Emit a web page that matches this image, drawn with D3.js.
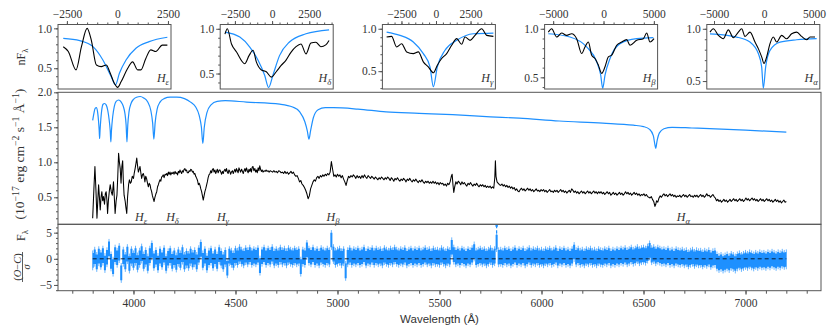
<!DOCTYPE html>
<html>
<head>
<meta charset="utf-8">
<script src="https://cdn.jsdelivr.net/npm/d3@7"></script>
<style>
body { margin: 0; background: #fff; }
svg text { font-family: "Liberation Serif", "DejaVu Serif", serif; fill: #333; }
.tick text { font-size: 11.5px; }
</style>
</head>
<body>
<div id="chart"></div>
<script>
// ---- data ----
// observed spectrum [wavelength, flux]
const observed = [[3800,0.20],[3806,0.62],[3811,0.94],[3816,0.60],[3821,0.20],[3825,0.45],[3829,0.68],[3833,0.50],[3837,0.32],[3841,0.50],[3845,0.58],[3849,0.45],[3853,0.51],[3858,0.40],[3862,0.55],[3866,0.58],[3870,0.45],[3873,0.27],[3877,0.45],[3882,0.60],[3886,0.68],[3891,0.58],[3896,0.53],[3899,0.62],[3902,0.72],[3906,0.50],[3910,0.27],[3915,0.45],[3919,0.53],[3923,0.80],[3927,1.13],[3931,1.00],[3935,0.91],[3939,0.70],[3943,0.94],[3947,1.02],[3950,0.75],[3954,0.53],[3959,0.45],[3963,0.35],[3967,0.27],[3971,0.50],[3976,0.68],[3980,0.75],[3985,0.70],[3989,0.72],[3994,0.80],[4000,0.77],[4004,0.85],[4008,0.91],[4012,0.98],[4016,1.06],[4020,0.95],[4024,0.86],[4028,0.90],[4032,0.94],[4036,0.85],[4040,0.77],[4044,0.82],[4048,0.84],[4052,0.80],[4056,0.72],[4060,0.80],[4064,0.77],[4069,0.70],[4073,0.65],[4077,0.70],[4081,0.68],[4085,0.62],[4089,0.58],[4093,0.52],[4097,0.48],[4101,0.44],[4105,0.50],[4110,0.55],[4114,0.58],[4118,0.65],[4122,0.68],[4126,0.72],[4130,0.75],[4134,0.73],[4138,0.79],[4142,0.80],[4146,0.82],[4150,0.78],[4155,0.83],[4159,0.82],[4163,0.84],[4167,0.81],[4171,0.86],[4175,0.83],[4179,0.86],[4183,0.82],[4187,0.85],[4191,0.84],[4195,0.86],[4199,0.83],[4204,0.87],[4208,0.84],[4212,0.85],[4216,0.82],[4220,0.87],[4224,0.85],[4228,0.89],[4232,0.86],[4236,0.84],[4240,0.88],[4244,0.86],[4248,0.90],[4252,0.91],[4256,0.88],[4260,0.89],[4264,0.85],[4269,0.85],[4273,0.88],[4277,0.87],[4281,0.90],[4285,0.89],[4289,0.86],[4293,0.87],[4297,0.83],[4301,0.84],[4305,0.80],[4310,0.77],[4314,0.74],[4318,0.68],[4322,0.70],[4326,0.67],[4330,0.62],[4334,0.58],[4338,0.52],[4342,0.46],[4346,0.52],[4350,0.58],[4354,0.62],[4358,0.67],[4362,0.72],[4366,0.78],[4370,0.82],[4375,0.84],[4379,0.88],[4383,0.85],[4387,0.90],[4391,0.91],[4395,0.86],[4399,0.89],[4403,0.84],[4407,0.87],[4411,0.90],[4415,0.85],[4420,0.89],[4424,0.89],[4428,0.86],[4432,0.83],[4436,0.87],[4440,0.84],[4444,0.88],[4448,0.90],[4452,0.87],[4456,0.91],[4460,0.86],[4464,0.84],[4468,0.89],[4472,0.87],[4476,0.83],[4480,0.86],[4485,0.88],[4489,0.84],[4493,0.87],[4497,0.90],[4501,0.86],[4505,0.91],[4509,0.88],[4513,0.85],[4517,0.92],[4521,0.89],[4525,0.86],[4530,0.90],[4534,0.87],[4538,0.84],[4542,0.88],[4546,0.91],[4550,0.87],[4554,0.92],[4558,0.88],[4562,0.85],[4566,0.90],[4570,0.87],[4574,0.91],[4578,0.86],[4582,0.93],[4586,0.94],[4590,0.88],[4595,0.91],[4599,0.86],[4603,0.89],[4607,0.85],[4611,0.92],[4615,0.88],[4619,0.95],[4623,0.90],[4627,0.87],[4631,0.89],[4635,0.86],[4640,0.88],[4645,0.87],[4650,0.89],[4655,0.87],[4660,0.88],[4665,0.86],[4670,0.88],[4676,0.87],[4682,0.86],[4688,0.88],[4694,0.86],[4700,0.87],[4706,0.85],[4712,0.88],[4718,0.87],[4724,0.85],[4730,0.86],[4736,0.84],[4742,0.87],[4748,0.84],[4754,0.86],[4760,0.83],[4766,0.85],[4772,0.87],[4778,0.84],[4784,0.86],[4790,0.82],[4796,0.80],[4802,0.81],[4808,0.77],[4814,0.72],[4820,0.74],[4826,0.69],[4832,0.67],[4838,0.64],[4844,0.60],[4850,0.55],[4856,0.48],[4862,0.52],[4868,0.62],[4874,0.67],[4880,0.72],[4886,0.75],[4892,0.73],[4898,0.78],[4904,0.80],[4910,0.77],[4916,0.81],[4922,0.79],[4928,0.82],[4934,0.80],[4940,0.83],[4946,0.81],[4952,0.84],[4958,0.82],[4964,0.86],[4970,1.01],[4976,0.90],[4982,0.80],[4988,0.82],[4994,0.79],[5000,0.83],[5006,0.80],[5012,0.82],[5018,0.78],[5024,0.81],[5030,0.76],[5036,0.72],[5042,0.67],[5048,0.74],[5054,0.80],[5060,0.78],[5066,0.81],[5072,0.79],[5078,0.82],[5084,0.80],[5090,0.77],[5096,0.81],[5102,0.78],[5108,0.80],[5114,0.77],[5120,0.81],[5126,0.78],[5132,0.82],[5138,0.79],[5144,0.77],[5150,0.81],[5156,0.79],[5162,0.77],[5168,0.80],[5174,0.78],[5180,0.76],[5186,0.79],[5192,0.77],[5198,0.75],[5204,0.78],[5210,0.76],[5216,0.79],[5222,0.77],[5228,0.75],[5234,0.78],[5240,0.76],[5246,0.79],[5252,0.77],[5258,0.74],[5264,0.78],[5270,0.76],[5276,0.73],[5282,0.77],[5288,0.75],[5294,0.78],[5300,0.75],[5306,0.73],[5312,0.76],[5318,0.74],[5324,0.77],[5330,0.75],[5336,0.72],[5342,0.76],[5348,0.74],[5354,0.77],[5360,0.74],[5366,0.72],[5372,0.75],[5378,0.73],[5384,0.76],[5390,0.73],[5396,0.71],[5402,0.74],[5408,0.72],[5414,0.75],[5420,0.72],[5426,0.70],[5432,0.73],[5438,0.71],[5444,0.73],[5450,0.70],[5456,0.72],[5462,0.70],[5468,0.73],[5474,0.70],[5480,0.72],[5486,0.69],[5492,0.71],[5498,0.68],[5504,0.71],[5510,0.69],[5516,0.70],[5522,0.67],[5528,0.69],[5534,0.66],[5540,0.70],[5546,0.68],[5552,0.72],[5558,0.80],[5562,0.83],[5566,0.68],[5570,0.57],[5574,0.64],[5580,0.72],[5586,0.69],[5592,0.73],[5598,0.71],[5604,0.68],[5610,0.72],[5616,0.69],[5622,0.71],[5628,0.68],[5634,0.66],[5640,0.70],[5646,0.68],[5652,0.71],[5658,0.68],[5664,0.66],[5670,0.69],[5676,0.67],[5682,0.70],[5688,0.67],[5694,0.65],[5700,0.68],[5706,0.66],[5712,0.68],[5718,0.65],[5724,0.67],[5730,0.64],[5736,0.66],[5742,0.64],[5748,0.66],[5754,0.63],[5760,0.65],[5766,0.63],[5771,0.78],[5774,1.02],[5777,0.80],[5782,0.72],[5788,0.70],[5794,0.68],[5800,0.67],[5806,0.69],[5812,0.66],[5818,0.68],[5824,0.65],[5830,0.67],[5836,0.64],[5842,0.66],[5848,0.63],[5854,0.65],[5860,0.62],[5866,0.64],[5872,0.60],[5878,0.62],[5884,0.59],[5890,0.58],[5896,0.61],[5902,0.63],[5908,0.60],[5914,0.62],[5920,0.59],[5926,0.61],[5932,0.63],[5938,0.60],[5944,0.62],[5950,0.59],[5956,0.61],[5962,0.58],[5968,0.60],[5974,0.62],[5980,0.59],[5986,0.60],[5992,0.58],[5998,0.61],[6004,0.59],[6010,0.61],[6016,0.58],[6022,0.60],[6028,0.57],[6034,0.59],[6040,0.61],[6046,0.58],[6052,0.59],[6058,0.57],[6064,0.60],[6070,0.58],[6076,0.60],[6082,0.57],[6088,0.59],[6094,0.61],[6100,0.58],[6106,0.60],[6112,0.57],[6118,0.59],[6124,0.56],[6130,0.58],[6136,0.60],[6142,0.57],[6148,0.62],[6154,0.60],[6160,0.57],[6166,0.59],[6172,0.56],[6178,0.58],[6184,0.55],[6190,0.57],[6196,0.59],[6202,0.56],[6208,0.58],[6214,0.55],[6220,0.57],[6226,0.59],[6232,0.56],[6238,0.58],[6244,0.55],[6250,0.57],[6256,0.59],[6262,0.56],[6268,0.58],[6274,0.55],[6280,0.58],[6286,0.56],[6292,0.58],[6298,0.55],[6304,0.57],[6310,0.54],[6316,0.56],[6322,0.58],[6328,0.55],[6334,0.57],[6340,0.53],[6346,0.55],[6352,0.57],[6358,0.54],[6364,0.56],[6370,0.53],[6376,0.55],[6382,0.57],[6388,0.54],[6394,0.56],[6400,0.53],[6406,0.55],[6412,0.58],[6418,0.55],[6424,0.57],[6430,0.54],[6436,0.56],[6442,0.53],[6448,0.55],[6454,0.57],[6460,0.54],[6466,0.56],[6472,0.53],[6478,0.55],[6484,0.52],[6490,0.54],[6496,0.53],[6502,0.55],[6508,0.52],[6514,0.54],[6520,0.51],[6526,0.50],[6532,0.49],[6538,0.51],[6544,0.47],[6550,0.44],[6556,0.37],[6560,0.40],[6564,0.45],[6570,0.43],[6576,0.49],[6582,0.52],[6588,0.50],[6594,0.53],[6600,0.55],[6606,0.52],[6612,0.54],[6618,0.51],[6624,0.53],[6630,0.55],[6636,0.52],[6642,0.54],[6648,0.51],[6654,0.53],[6660,0.50],[6666,0.52],[6672,0.51],[6678,0.53],[6684,0.50],[6690,0.52],[6696,0.54],[6702,0.51],[6708,0.53],[6714,0.50],[6720,0.52],[6726,0.54],[6732,0.51],[6738,0.52],[6744,0.50],[6750,0.53],[6756,0.51],[6762,0.53],[6768,0.50],[6774,0.52],[6780,0.54],[6786,0.51],[6792,0.53],[6798,0.50],[6804,0.52],[6810,0.55],[6816,0.52],[6822,0.53],[6828,0.50],[6834,0.52],[6840,0.54],[6846,0.51],[6852,0.49],[6858,0.45],[6864,0.47],[6870,0.44],[6876,0.46],[6882,0.43],[6888,0.45],[6894,0.47],[6900,0.44],[6906,0.46],[6912,0.43],[6918,0.45],[6924,0.47],[6930,0.44],[6936,0.46],[6942,0.48],[6948,0.45],[6954,0.47],[6960,0.44],[6966,0.46],[6972,0.48],[6978,0.45],[6984,0.47],[6990,0.44],[6996,0.46],[7002,0.49],[7008,0.46],[7014,0.48],[7020,0.45],[7026,0.47],[7032,0.49],[7038,0.46],[7044,0.48],[7050,0.45],[7056,0.47],[7062,0.44],[7068,0.46],[7074,0.48],[7080,0.45],[7086,0.47],[7092,0.44],[7098,0.46],[7104,0.48],[7110,0.45],[7116,0.47],[7122,0.44],[7128,0.46],[7134,0.43],[7140,0.45],[7146,0.47],[7152,0.44],[7158,0.46],[7164,0.43],[7170,0.45],[7176,0.42],[7182,0.44],[7188,0.46],[7194,0.43],[7200,0.44]];

// model spectrum [wavelength, flux]
const model = [[3800,1.60],[3806,1.70],[3812,1.77],[3818,1.78],[3824,1.72],[3829,1.58],[3832,1.45],[3834,1.34],[3836,1.45],[3839,1.58],[3845,1.76],[3851,1.83],[3858,1.84],[3866,1.82],[3874,1.74],[3881,1.60],[3886,1.45],[3889,1.29],[3892,1.45],[3898,1.65],[3906,1.80],[3915,1.87],[3927,1.89],[3940,1.86],[3950,1.80],[3958,1.70],[3964,1.53],[3968,1.29],[3972,1.53],[3978,1.72],[3988,1.84],[4000,1.90],[4015,1.93],[4033,1.94],[4050,1.92],[4070,1.86],[4085,1.74],[4094,1.56],[4100,1.33],[4106,1.56],[4116,1.76],[4130,1.86],[4150,1.91],[4180,1.93],[4212,1.93],[4250,1.91],[4280,1.86],[4305,1.79],[4322,1.67],[4333,1.50],[4340,1.27],[4347,1.50],[4360,1.71],[4380,1.82],[4410,1.87],[4450,1.88],[4554,1.86],[4717,1.83],[4780,1.79],[4815,1.72],[4840,1.58],[4852,1.45],[4860,1.33],[4868,1.45],[4882,1.64],[4905,1.75],[4940,1.78],[4980,1.78],[5100,1.76],[5238,1.72],[5400,1.70],[5564,1.68],[5750,1.65],[5890,1.63],[6086,1.59],[6300,1.56],[6450,1.53],[6500,1.51],[6530,1.47],[6548,1.38],[6556,1.25],[6560,1.20],[6566,1.30],[6578,1.42],[6600,1.48],[6640,1.50],[6737,1.49],[7000,1.46],[7200,1.43]];

// normalised residuals (O-C)/sigma, one value every 10 A from 3800 A
const resStart = 3800, resStep = 10;
const residual = [
 -0.3,0.4,-0.6,0.5,-0.2,0.6,-0.8,0.3,1.9,-0.5,
 -1.5,0.8,0.2,1.1,-2.7,0.4,-0.6,0.9,-0.9,0.5,
 -0.3,0.6,-0.7,0.2,1.0,-0.5,0.3,-0.9,0.6,1.6,
 -0.4,0.3,-0.8,0.5,-0.2,0.7,-0.9,0.1,0.6,-0.5,
 0.2,-0.7,0.4,-0.3,0.8,-0.6,0.1,-0.4,0.5,-0.2,
 0.3,-0.6,0.7,1.8,-0.3,0.5,-0.8,0.2,0.6,-0.4,
 0.4,-0.5,0.8,0.1,-0.6,0.3,-1.8,0.5,0.2,-0.3,
 0.6,0.2,0.9,0.4,0.1,0.7,0.3,0.8,0.2,0.5,
 0.3,0.7,-1.3,0.4,0.8,0.2,0.6,0.3,0.9,0.1,
 0.5,0.2,0.8,0.3,0.6,0.1,0.7,0.4,0.2,0.6,
 0.3,0.5,-1.5,0.4,0.2,1.7,0.6,0.3,0.8,0.2,
 0.5,0.1,0.7,0.4,0.2,0.6,0.3,3.6,0.9,0.2,
 0.4,0.6,0.1,0.5,-2.3,0.3,0.7,0.2,0.5,0.3,
 0.6,0.2,0.4,0.8,0.1,0.5,0.3,0.7,0.2,0.6,
 0.3,0.5,0.1,0.7,0.4,0.2,0.6,0.3,0.8,0.4,
 0.2,0.5,0.3,0.7,0.1,0.4,0.6,0.2,0.5,0.3,
 0.6,0.2,0.4,0.7,0.3,0.5,0.1,0.6,0.3,0.4,
 0.2,0.7,0.4,0.1,0.5,0.3,2.2,0.8,0.3,0.5,
 0.2,0.6,0.4,0.1,0.5,0.3,0.7,1.4,0.2,0.4,
 0.6,0.3,0.5,0.1,0.4,0.7,0.2,0.5,3.2,0.3,
 0.4,0.2,0.6,0.3,0.5,0.1,0.4,0.7,0.2,0.5,
 0.3,0.6,0.1,0.4,0.7,0.2,0.5,0.3,0.6,0.2,
 0.4,0.1,0.5,0.3,0.6,0.2,0.4,0.7,0.1,0.5,
 0.3,0.6,0.2,0.4,0.1,0.5,1.3,0.3,0.6,0.2,
 0.4,0.1,0.5,0.3,0.6,0.2,0.4,0.1,0.5,0.3,
 0.2,0.5,0.3,0.6,0.1,0.4,0.2,0.5,0.3,0.6,
 0.4,0.7,0.3,0.5,0.8,0.4,0.6,0.9,0.5,0.7,
 0.8,0.6,1.0,1.6,0.7,0.9,0.5,0.8,0.6,0.4,
 0.5,0.3,0.6,0.2,0.4,0.1,0.5,0.3,0.2,0.4,
 0.1,0.3,-0.1,0.2,0.4,0.0,0.3,0.1,0.2,-0.1,
 0.2,0.0,0.3,-0.2,0.1,0.2,-0.5,-0.8,-0.6,-0.9,
 -0.7,-0.5,-0.8,-0.4,-0.6,-0.9,-0.5,-0.3,-0.6,-0.4,
 -0.2,-0.4,-0.1,-0.3,-0.5,-0.2,-0.4,-0.1,-0.3,-0.2,
 -0.4,-0.1,-0.3,0.0,-0.2,-0.4,-0.1,-0.3,0.0,-0.2,
 -0.1];
const resOutlierWave = [5780];
const resOutlierValue = [6.3];

// Balmer line labels on the main panel
const lineNames = ["ε", "δ", "γ", "β", "α"];
const lineLabelWave = [4008, 4160, 4409, 4946, 6663];

// line profiles in the insets [velocity km/s, normalised flux]
const epsObs = [[-2680,0.77],[-2430,0.71],[-2050,0.48],[-1780,0.77],[-1500,1.0],[-1290,0.85],[-1040,0.54],[-800,0.52],[-550,0.54],[-390,0.46],[-150,0.31],[10,0.26],[180,0.33],[510,0.50],[750,0.58],[1000,0.48],[1160,0.48],[1400,0.62],[1650,0.73],[1900,0.71],[2220,0.79],[2470,0.79]];
const epsMod = [[-2680,0.875],[-1860,0.846],[-1210,0.771],[-720,0.604],[-310,0.396],[-98,0.292],[98,0.438],[425,0.604],[915,0.75],[1570,0.833],[2470,0.888]];
const deltaObs = [[-3170,0.94],[-3010,1.0],[-2730,0.83],[-2390,0.74],[-1840,0.61],[-1550,0.70],[-1280,0.76],[-1060,0.63],[-720,0.54],[-390,0.52],[-50,0.46],[280,0.52],[610,0.59],[940,0.65],[1280,0.74],[1610,0.80],[1940,0.83],[2280,0.72],[2610,0.84],[2940,0.85],[3280,0.80],[3610,0.82],[3830,0.87]];
const deltaMod = [[-3170,0.963],[-2170,0.907],[-1500,0.796],[-944,0.648],[-500,0.481],[-233,0.344],[56,0.481],[500,0.70],[1167,0.852],[2278,0.944],[3833,0.989]];
const gammaObs = [[-3575,0.902],[-3213,0.910],[-2850,0.785],[-2488,0.824],[-2126,0.727],[-1643,0.707],[-1280,0.727],[-918,0.610],[-556,0.551],[-193,0.481],[97,0.571],[411,0.649],[773,0.707],[1135,0.805],[1498,0.883],[1860,0.817],[2101,0.902],[2464,0.863],[2826,0.922],[3309,1.0],[3671,0.922],[4155,0.910]];
const gammaMod = [[-3575,0.961],[-2609,0.922],[-1643,0.844],[-918,0.707],[-435,0.551],[-193,0.317],[97,0.551],[652,0.746],[1498,0.863],[2705,0.941],[4155,0.949]];
const betaObs = [[-5479,0.966],[-5148,1.0],[-4651,0.915],[-4155,0.956],[-3659,0.932],[-3162,0.949],[-2665,0.898],[-2169,0.745],[-1838,0.813],[-1507,0.864],[-1175,0.728],[-844,0.694],[-513,0.626],[-182,0.541],[149,0.609],[480,0.711],[811,0.728],[1308,0.830],[1804,0.864],[2301,0.888],[2632,0.830],[3294,0.881],[3956,0.898],[4287,0.956],[4618,0.864],[5016,0.898]];
const betaMod = [[-5479,0.949],[-3327,0.915],[-1672,0.813],[-679,0.660],[-281,0.524],[-83,0.388],[149,0.524],[646,0.694],[1639,0.847],[3294,0.898],[4949,0.908]];
const alphaObs = [[-5400,0.968],[-5067,1.0],[-4567,0.937],[-4067,0.905],[-3567,0.990],[-3067,0.914],[-2567,0.968],[-2233,1.0],[-1900,0.927],[-1400,0.968],[-900,0.873],[-567,0.810],[-233,0.731],[0,0.668],[267,0.731],[600,0.858],[933,0.921],[1267,0.873],[1767,0.937],[2267,0.905],[2767,0.952],[3267,0.968],[3767,0.927],[4267,0.895],[4600,0.921],[5100,0.921]];
const alphaMod = [[-5400,0.952],[-2733,0.921],[-1400,0.873],[-567,0.763],[-233,0.636],[-67,0.431],[167,0.636],[600,0.794],[1600,0.873],[3267,0.895],[5267,0.905]];

// tick labels
const waveTicks = [4000, 4500, 5000, 5500, 6000, 6500, 7000];
const fluxTicks = [0.5, 1.0, 1.5, 2.0];
const resTicks = [-5, 0, 5];
const insetFluxTicks = [0.5, 1.0];
const insetVelTicks = [[-2500, 0, 2500], [-2500, 0, 2500], [-2500, 0, 2500], [-5000, 0, 5000], [-5000, 0, 5000]];

// ---- layout ----
const width = 830, height = 327;
const left = 58, right = 821;
const mainTop = 92.3, mainBottom = 224.3, resBottom = 290.7;
const insetTop = 24.5, insetBottom = 89, insetW = 113;
const insetLeft = [58, 220.2, 382.4, 544.6, 706.8];
const insetVelDomain = [[-2940, 2650], [-3490, 4110], [-3880, 4300], [-5850, 5370], [-5720, 5580]];
const insetFluxDomain = [[0.24, 1.048], [0.327, 1.048], [0.29, 1.05], [0.38, 1.044], [0.424, 1.041]];
const insetMinor = [500, 500, 500, 1000, 1000];
const insetObs = [epsObs, deltaObs, gammaObs, betaObs, alphaObs];
const insetMod = [epsMod, deltaMod, gammaMod, betaMod, alphaMod];

const blue = "#1e90ff", frame = "#555";

const svg = d3.select("#chart").append("svg")
    .attr("width", width)
    .attr("height", height);

const x = d3.scaleLinear().domain([3630, 7370]).range([left, right]);
const yMain = d3.scaleLinear().domain([0.114, 2.0]).range([mainBottom, mainTop]);
const yRes = d3.scaleLinear().domain([-6.1, 6.6]).range([resBottom, mainBottom]);

function tidy(g) {
    g.select(".domain").remove();
    g.selectAll(".tick line").attr("stroke", frame);
    g.attr("font-family", null).attr("font-size", null);
}

// write text made of normal / super (1) / sub (-1) pieces
function rich(t, parts, size) {
    let cur = 0;
    parts.forEach(function (p) {
        const off = p[1] === 1 ? -0.38 * size : p[1] === -1 ? 0.28 * size : 0;
        const ts = t.append("tspan").text(p[0])
            .attr("dy", off - cur)
            .attr("font-size", p[1] ? size * 0.72 : size);
        if (p[2]) ts.attr("font-style", "italic");
        cur = off;
    });
}

// ---- main panel ----
svg.append("path")
    .datum(model)
    .attr("fill", "none")
    .attr("stroke", blue)
    .attr("stroke-width", 1.2)
    .attr("d", d3.line().x(d => x(d[0])).y(d => yMain(d[1])).curve(d3.curveMonotoneX));

svg.append("path")
    .datum(observed)
    .attr("fill", "none")
    .attr("stroke", "#000")
    .attr("stroke-width", 1.05)
    .attr("stroke-linejoin", "round")
    .attr("d", d3.line().x(d => x(d[0])).y(d => yMain(d[1])));

lineNames.forEach(function (n, i) {
    const t = svg.append("text")
        .attr("x", x(lineLabelWave[i]))
        .attr("y", yMain(0.16));
    rich(t, [["H", 0, true], [n, -1, true]], 12);
});

svg.append("g").attr("transform", "translate(" + left + ",0)")
    .call(d3.axisLeft(yMain).tickValues(d3.range(0.2, 2.001, 0.1)).tickSize(2).tickFormat(""))
    .call(tidy);
svg.append("g").attr("transform", "translate(" + left + ",0)")
    .call(d3.axisLeft(yMain).tickValues(fluxTicks).tickFormat(d3.format(".1f")).tickSize(4).tickPadding(2))
    .call(tidy);

svg.append("rect")
    .attr("x", left).attr("y", mainTop)
    .attr("width", right - left).attr("height", mainBottom - mainTop)
    .attr("fill", "none").attr("stroke", frame);

// ---- residual panel ----
svg.append("clipPath").attr("id", "resclip")
    .append("rect").attr("x", left).attr("y", mainBottom)
    .attr("width", right - left).attr("height", resBottom - mainBottom);

const res = svg.append("g").attr("clip-path", "url(#resclip)");
const errHalf = 1.4;

// thin error-bar whiskers behind the band give it a ragged edge
res.selectAll("line.bar")
    .data(residual)
    .enter()
    .append("line")
    .attr("class", "bar")
    .attr("x1", (d, i) => x(resStart + i * resStep))
    .attr("x2", (d, i) => x(resStart + i * resStep))
    .attr("y1", d => yRes(d - errHalf - 0.5))
    .attr("y2", d => yRes(d + errHalf + 0.5))
    .attr("stroke", "#5aaeff")
    .attr("stroke-width", 0.9);

res.append("path")
    .datum(residual)
    .attr("fill", blue)
    .attr("d", d3.area()
        .x((d, i) => x(resStart + i * resStep))
        .y0(d => yRes(d - errHalf))
        .y1(d => yRes(d + errHalf))
        .curve(d3.curveStep));

res.selectAll("line.out")
    .data(resOutlierWave)
    .enter()
    .append("line")
    .attr("x1", d => x(d)).attr("x2", d => x(d))
    .attr("y1", (d, i) => yRes(resOutlierValue[i] - errHalf))
    .attr("y2", (d, i) => yRes(resOutlierValue[i] + errHalf))
    .attr("stroke", blue)
    .attr("stroke-width", 1.2)
    .attr("stroke-dasharray", "3,2");
res.selectAll("circle.out")
    .data(resOutlierWave)
    .enter()
    .append("circle")
    .attr("cx", d => x(d))
    .attr("cy", (d, i) => yRes(resOutlierValue[i]))
    .attr("r", 1.3)
    .attr("fill", blue);

res.append("path")
    .datum([resStart, resStart + (residual.length - 1) * resStep])
    .attr("fill", "none")
    .attr("stroke", "#000")
    .attr("stroke-width", 1)
    .attr("stroke-dasharray", "4,3")
    .attr("opacity", 0.8)
    .attr("d", d3.line().x(d => x(d)).y(() => yRes(0)));

svg.append("g").attr("transform", "translate(" + left + ",0)")
    .call(d3.axisLeft(yRes).tickValues(d3.range(-6, 7, 1)).tickSize(2).tickFormat(""))
    .call(tidy);
svg.append("g").attr("transform", "translate(" + left + ",0)")
    .call(d3.axisLeft(yRes).tickValues(resTicks).tickFormat(d3.format("d")).tickSize(4).tickPadding(2))
    .call(tidy);

svg.append("g").attr("transform", "translate(0," + resBottom + ")")
    .call(d3.axisBottom(x).tickValues(d3.range(3700, 7301, 100)).tickSize(3).tickFormat(""))
    .call(tidy);
svg.append("g").attr("transform", "translate(0," + resBottom + ")")
    .call(d3.axisBottom(x).tickValues(waveTicks).tickFormat(d3.format("d")).tickSize(4).tickPadding(4))
    .call(tidy);

svg.append("rect")
    .attr("x", left).attr("y", mainBottom)
    .attr("width", right - left).attr("height", resBottom - mainBottom)
    .attr("fill", "none").attr("stroke", frame);

// ---- insets ----
insetLeft.forEach(function (x0, i) {
    const xv = d3.scaleLinear().domain(insetVelDomain[i]).range([x0, x0 + insetW]);
    const yv = d3.scaleLinear().domain(insetFluxDomain[i]).range([insetBottom, insetTop]);
    const g = svg.append("g");

    g.append("path")
        .datum(insetMod[i])
        .attr("fill", "none").attr("stroke", blue).attr("stroke-width", 1.2)
        .attr("d", d3.line().x(d => xv(d[0])).y(d => yv(d[1])).curve(d3.curveMonotoneX));
    g.append("path")
        .datum(insetObs[i])
        .attr("fill", "none").attr("stroke", "#000").attr("stroke-width", 1.1)
        .attr("d", d3.line().x(d => xv(d[0])).y(d => yv(d[1])).curve(d3.curveMonotoneX));

    const dom = insetVelDomain[i], step = insetMinor[i];
    const minor = d3.range(Math.ceil(dom[0] / step) * step, dom[1], step);
    g.append("g").attr("transform", "translate(0," + insetTop + ")")
        .call(d3.axisTop(xv).tickValues(minor).tickSize(2).tickFormat(""))
        .call(tidy);
    g.append("g").attr("transform", "translate(0," + insetTop + ")")
        .call(d3.axisTop(xv).tickValues(insetVelTicks[i]).tickFormat(d3.format("d")).tickSize(3.5).tickPadding(3))
        .call(tidy);

    const fd = insetFluxDomain[i];
    g.append("g").attr("transform", "translate(" + x0 + ",0)")
        .call(d3.axisLeft(yv).tickValues(d3.range(Math.ceil(fd[0] * 10) / 10, fd[1], 0.1)).tickSize(2).tickFormat(""))
        .call(tidy);
    g.append("g").attr("transform", "translate(" + x0 + ",0)")
        .call(d3.axisLeft(yv).tickValues(insetFluxTicks).tickFormat(d3.format(".1f")).tickSize(4).tickPadding(2))
        .call(tidy);

    g.append("rect")
        .attr("x", x0).attr("y", insetTop)
        .attr("width", insetW).attr("height", insetBottom - insetTop)
        .attr("fill", "none").attr("stroke", frame);

    const t = g.append("text")
        .attr("x", x0 + insetW - 2)
        .attr("y", insetBottom - 7)
        .attr("text-anchor", "end");
    rich(t, [["H", 0, true], [lineNames[i], -1, true]], 12);
});

// ---- axis titles ----
const fluxSym = svg.append("text")
    .attr("transform", "translate(25,241) rotate(-90)")
    .attr("text-anchor", "start");
rich(fluxSym, [["F", 0], ["λ", -1]], 12);

const unitLabel = svg.append("text")
    .attr("transform", "translate(24,154) rotate(-90)")
    .attr("text-anchor", "middle");
rich(unitLabel, [["(10", 0], ["−17", 1], [" erg cm", 0], ["−2", 1], [" s", 0], ["−1", 1], [" Å", 0], ["−1", 1], [")", 0]], 13.5);

const insetLabel = svg.append("text")
    .attr("transform", "translate(25,57) rotate(-90)")
    .attr("text-anchor", "middle");
rich(insetLabel, [["nF", 0], ["λ", -1]], 12);

const frac = svg.append("g").attr("transform", "translate(23,267) rotate(-90)");
const num = frac.append("text").attr("y", -2.5).attr("text-anchor", "middle");
rich(num, [["(", 0], ["O", 0, true], ["−", 0], ["C", 0, true], [")", 0]], 10.5);
frac.append("line")
    .attr("x1", -15).attr("x2", 15).attr("y1", -0.5).attr("y2", -0.5)
    .attr("stroke", "#333").attr("stroke-width", 0.8);
frac.append("text").attr("y", 7).attr("text-anchor", "middle")
    .attr("font-size", 10.5).attr("font-style", "italic").text("σ");

svg.append("text")
    .attr("x", (left + right) / 2)
    .attr("y", 323)
    .attr("text-anchor", "middle")
    .style("font-family", '"Liberation Sans", "DejaVu Sans", sans-serif')
    .attr("font-size", 11.5)
    .text("Wavelength  (Å)");
</script>
</body>
</html>
